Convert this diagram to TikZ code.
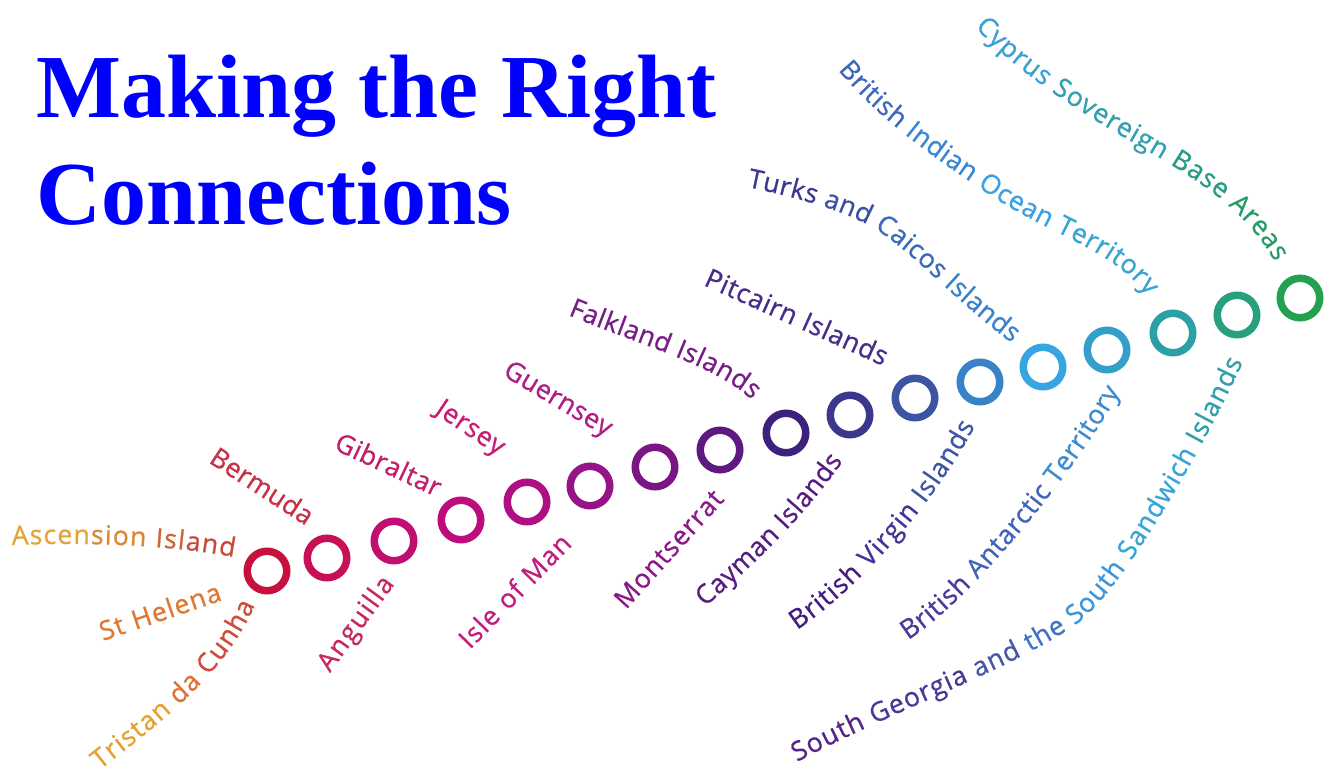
\documentclass[tikz,border=0pt]{standalone}
\usepackage{fontspec}
\setmainfont{Liberation Serif}
\newfontfamily\lblfont{Open Sans}[FakeBold=0.8]
\usetikzlibrary{decorations.text}
\definecolor{titleblue}{RGB}{0,0,255}
% ring colours
\definecolor{r1}{RGB}{200,16,60}
\definecolor{r2}{RGB}{198,16,88}
\definecolor{r3}{RGB}{192,15,112}
\definecolor{r4}{RGB}{190,12,125}
\definecolor{r5}{RGB}{175,15,132}
\definecolor{r6}{RGB}{150,20,135}
\definecolor{r7}{RGB}{122,22,132}
\definecolor{r8}{RGB}{95,26,130}
\definecolor{r9}{RGB}{62,32,125}
\definecolor{r10}{RGB}{60,55,140}
\definecolor{r11}{RGB}{60,85,162}
\definecolor{r12}{RGB}{56,130,200}
\definecolor{r13}{RGB}{55,165,225}
\definecolor{r14}{RGB}{50,160,200}
\definecolor{r15}{RGB}{45,160,165}
\definecolor{r16}{RGB}{40,160,125}
\definecolor{r17}{RGB}{35,160,80}
% label colours
\definecolor{a1}{RGB}{228,165,55}
\definecolor{a2}{RGB}{220,135,50}
\definecolor{a3}{RGB}{210,100,50}
\definecolor{a4}{RGB}{200,75,60}
\definecolor{sth}{RGB}{225,120,50}
\definecolor{tr1}{RGB}{232,160,50}
\definecolor{tr2}{RGB}{222,115,55}
\definecolor{tr3}{RGB}{208,75,60}
\definecolor{ber}{RGB}{200,50,70}
\definecolor{ang}{RGB}{200,40,90}
\definecolor{gib}{RGB}{195,30,105}
\definecolor{jer}{RGB}{200,30,115}
\definecolor{iom}{RGB}{195,30,125}
\definecolor{gue}{RGB}{175,30,135}
\definecolor{mon}{RGB}{140,25,135}
\definecolor{fal}{RGB}{120,30,135}
\definecolor{cay}{RGB}{85,30,130}
\definecolor{pit}{RGB}{70,45,140}
\definecolor{bv1}{RGB}{70,30,130}
\definecolor{bv2}{RGB}{65,55,150}
\definecolor{bv3}{RGB}{60,85,165}
\definecolor{tc1}{RGB}{60,55,145}
\definecolor{tc2}{RGB}{60,80,165}
\definecolor{tc3}{RGB}{60,105,185}
\definecolor{tc4}{RGB}{60,130,205}
\definecolor{bi1}{RGB}{60,105,190}
\definecolor{bi2}{RGB}{60,135,210}
\definecolor{bi3}{RGB}{60,160,225}
\definecolor{bi4}{RGB}{55,165,210}
\definecolor{ba1}{RGB}{70,60,155}
\definecolor{ba2}{RGB}{65,100,185}
\definecolor{ba3}{RGB}{60,140,210}
\definecolor{sg1}{RGB}{85,35,135}
\definecolor{sg2}{RGB}{75,55,150}
\definecolor{sg3}{RGB}{70,85,170}
\definecolor{sg4}{RGB}{65,115,195}
\definecolor{sg5}{RGB}{60,150,220}
\definecolor{sg6}{RGB}{55,165,215}
\definecolor{sg7}{RGB}{50,160,170}
\definecolor{cy1}{RGB}{60,160,210}
\definecolor{cy2}{RGB}{50,160,175}
\definecolor{cy3}{RGB}{40,155,135}
\definecolor{cy4}{RGB}{40,155,105}
\newcommand\labf{\lblfont\fontsize{26.5}{26.5}\selectfont}
\newcommand\labc[1]{\labf\color{#1}}
\tikzset{
  ring/.style={circle, draw=#1, line width=7.5pt, minimum size=39.5pt, inner sep=0pt},
  lbl/.style={decorate, decoration={text along path, text={#1}, text align={fit to path}}},
  titletext/.style={anchor=base west, inner sep=0pt, text=titleblue,
    font=\fontsize{90}{90}\selectfont\bfseries},
}
\begin{document}
\begin{tikzpicture}[x=1pt,y=-1pt]
\useasboundingbox[fill=white] (0,0) rectangle (1330,778);
% title
\node[titletext] (t1) at (36,118) {Making the Right};
\node[titletext] (t2) at (36,225) {Connections};
% rings
\node[ring=r1]  (c1)  at (267,571) {};
\node[ring=r2]  (c2)  at (327,558) {};
\node[ring=r3]  (c3)  at (394,541) {};
\node[ring=r4]  (c4)  at (461,520) {};
\node[ring=r5]  (c5)  at (527,502) {};
\node[ring=r6]  (c6)  at (590,486) {};
\node[ring=r7]  (c7)  at (655,467) {};
\node[ring=r8]  (c8)  at (720,450) {};
\node[ring=r9]  (c9)  at (786,433) {};
\node[ring=r10] (c10) at (850,415) {};
\node[ring=r11] (c11) at (915,398) {};
\node[ring=r12] (c12) at (980,382) {};
\node[ring=r13] (c13) at (1043,367) {};
\node[ring=r14] (c14) at (1107,350) {};
\node[ring=r15] (c15) at (1173,333) {};
\node[ring=r16] (c16) at (1237,315) {};
\node[ring=r17] (c17) at (1300,298) {};
% labels
\path[lbl={|\labc{a1}|Ascen|\labc{a2}|sion |\labc{a3}|Isl|\labc{a4}|and}]
  (12,545) .. controls (90,542) and (170,545) .. (234,557);
\path[lbl={|\labc{sth}|St Helena}] (103,641) -- (223,600);
\path[lbl={|\labc{tr1}|Tristan |\labc{tr2}|da |\labc{tr3}|Cunha}]
  (100,770) .. controls (150,730) and (222,680) .. (255,605);
\path[lbl={|\labc{ber}|Bermuda}] (208,462) -- (306,526);
\path[lbl={|\labc{ang}|Anguilla}] (330,673) -- (395,584);
\path[lbl={|\labc{gib}|Gibraltar}] (333,449) -- (436,497);
\path[lbl={|\labc{jer}|Jersey}] (434,413) -- (498,456);
\path[lbl={|\labc{iom}|Isle of Man}] (470,650) -- (573,545);
\path[lbl={|\labc{gue}|Guernsey}] (502,375) -- (606,437);
\path[lbl={|\labc{mon}|Montserrat}] (626,610) -- (725,500);
\path[lbl={|\labc{fal}|Falkland Islands}]
  (568,315) .. controls (640,345) and (715,365) .. (752,400);
\path[lbl={|\labc{cay}|Cayman Islands}]
  (705,607) .. controls (752,566) and (800,522) .. (843,461);
\path[lbl={|\labc{pit}|Pitcairn Islands}] (703,285) -- (883,366);
\path[lbl={|\labc{bv1}|British |\labc{bv2}|Virgin |\labc{bv3}|Islands}]
  (797,630) .. controls (845,598) and (925,520) .. (975,426);
\path[lbl={|\labc{tc1}|Turks |\labc{tc2}|and |\labc{tc3}|Caicos |\labc{tc4}|Islands}]
  (747,187) .. controls (800,198) and (850,212) .. (880,232)
  .. controls (915,255) and (960,305) .. (1012,343);
\path[lbl={|\labc{bi1}|British |\labc{bi2}|Indian |\labc{bi3}|Ocean |\labc{bi4}|Territory}]
  (838,70) .. controls (880,120) and (930,155) .. (990,195)
  .. controls (1050,235) and (1115,250) .. (1147,296);
\path[lbl={|\labc{ba1}|British |\labc{ba2}|Antarctic |\labc{ba3}|Territory}]
  (908,640) .. controls (960,608) and (1060,495) .. (1120,392);
\path[lbl={|\labc{sg1}|South |\labc{sg2}|Georgia |\labc{sg3}|and |\labc{sg4}|the |\labc{sg5}|South |\labc{sg6}|Sandwich |\labc{sg7}|Islands}]
  (797,762) .. controls (890,712) and (1010,670) .. (1075,625)
  .. controls (1120,594) and (1200,455) .. (1243,362);
\path[lbl={|\labc{cy1}|Cyprus |\labc{cy2}|Sovereign |\labc{cy3}|Base |\labc{cy4}|Areas}]
  (975,27) .. controls (1010,65) and (1060,100) .. (1120,135)
  .. controls (1180,170) and (1240,200) .. (1275,262);
\end{tikzpicture}
\end{document}
